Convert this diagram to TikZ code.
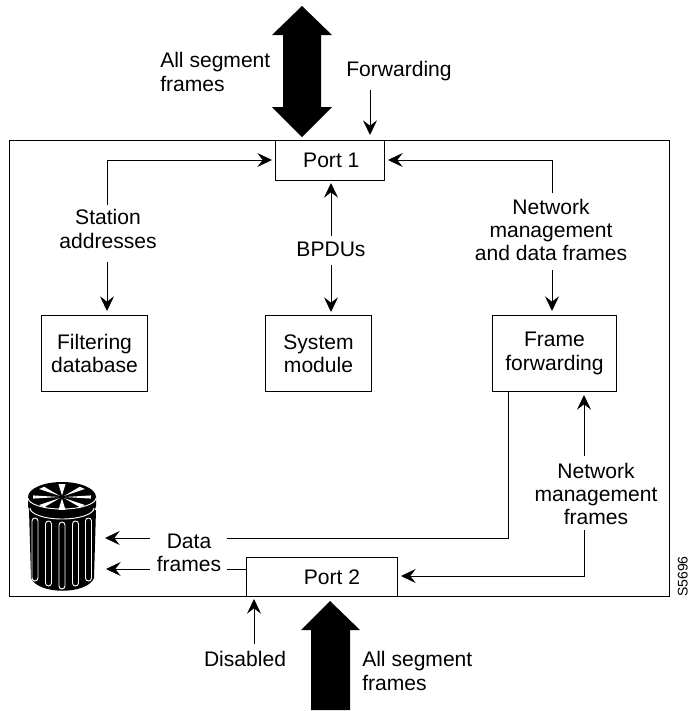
\documentclass[tikz,border=0pt]{standalone}
\usepackage{fontspec}
\setmainfont{Liberation Sans}
\usetikzlibrary{arrows.meta,calc}
\tikzset{
  box/.style={draw=black,line width=0.75pt,fill=white,inner sep=0pt,align=center},
  lbl/.style={inner sep=0pt,align=center,font=\fontsize{15.8}{17.4}\selectfont},
  conn/.style={draw=black,line width=0.75pt},
  arr/.style={conn,-{Stealth[length=11pt,width=10.5pt,inset=4pt]}},
  bigarrow/.style={fill=black,draw=none}
}
\begin{document}
\begin{tikzpicture}[x=0.75pt,y=-0.75pt]
\useasboundingbox (0,0) rectangle (689,711);
% enclosure
\node[box,minimum width=495pt,minimum height=342pt,anchor=north west] (frame) at (9,140) {};
% big arrows
\fill[bigarrow] (302,6)--(332,35)--(321,35)--(321,107)--(332,107)--(302,137)--(272,107)--(283,107)--(283,35)--(272,35)--cycle;
\fill[bigarrow] (330,601)--(360,630)--(350,630)--(350,710)--(311,710)--(311,630)--(301,630)--cycle;
% boxes
\node[box,lbl,minimum width=81.75pt,minimum height=30pt,anchor=north west] (p1) at (275,140) {\hspace*{2pt}Port 1};
\node[box,lbl,minimum width=113.25pt,minimum height=29.25pt,anchor=north west] (p2) at (246,557) {\hspace*{15pt}Port 2};
\node[box,lbl,minimum width=79.5pt,minimum height=57pt,anchor=north west] (fd) at (41,315) {Filtering\\database};
\node[box,lbl,minimum width=79.5pt,minimum height=57pt,anchor=north west] (sm) at (265,315) {System\\module};
\node[box,lbl,minimum width=93pt,minimum height=57pt,anchor=north west] (ff) at (492,315) {Frame\\forwarding};
% labels
\node[lbl,align=left,anchor=west] (l1) at (160,72) {All segment\\frames};
\node[lbl] (l2) at (399,71) {Forwarding};
\node[lbl] (l3) at (108,229) {Station\\addresses};
\node[lbl] (l4) at (331,249) {BPDUs};
\node[lbl] (l5) at (551,230) {Network\\management\\and data frames};
\node[lbl] (l6) at (596,494) {Network\\management\\frames};
\node[lbl] (l7) at (189,553) {Data\\frames};
\node[lbl] (l8) at (245,659) {Disabled};
\node[lbl,align=left,anchor=west] (l9) at (362,671) {All segment\\frames};
\node[inner sep=0pt,rotate=90,anchor=base west,font=\fontsize{10.5}{12}\selectfont] (l10) at (687.5,597) {S5696};
% free ends
\coordinate (c1) at (370,90);
\coordinate (c1e) at (370,135);
\coordinate (c2) at (107,160);
\coordinate (c3) at (552,160);
\coordinate (c4) at (254,644);
\coordinate (c5) at (254,599);
\coordinate (tc1) at (105,538);
\coordinate (tc2) at (106,569);
% connectors
\draw[arr] (c1)--(c1e);
\draw[arr] (107,205)--(c2)--(272,160);
\draw[arr] (107,262)--(107,311);
\draw[arr] (331,236)--(331,183);
\draw[arr] (331,265)--(331,312);
\draw[arr] (552,193)--(c3)--(388,160);
\draw[arr] (552,270)--(552,311);
\draw[arr] (584,456)--(584,395);
\draw[arr] (584,530)--(584,576)--(401,576);
\draw[conn] (508,391)--(508,538)--(227,538);
\draw[arr] (150,538)--(tc1);
\draw[conn] (246,569)--(227,569);
\draw[arr] (150,569)--(tc2);
\draw[arr] (c4)--(c5);
% trash can
\fill[black] (29,510) -- (31,578) .. controls (38,595) and (87,595) .. (94,578) -- (96,510) -- cycle;
\fill[black] (28,497) -- (28,506) arc[start angle=180,end angle=0,x radius=34,y radius=13] -- (96,497) arc[start angle=0,end angle=-180,x radius=34,y radius=15] -- cycle;
\draw[white,line width=0.7pt] (28,498) arc[start angle=180,end angle=0,x radius=34,y radius=11];
\draw[white,line width=0.7pt] (30,508) arc[start angle=180,end angle=0,x radius=32,y radius=11];
\foreach \x/\t/\b in {35/521/578,48.5/524/583,62/525/586,75.5/524/583,88.5/521/578}{
  \draw[white,line width=0.7pt] (\x-3,\b) -- (\x-3,\t) arc[start angle=180,end angle=360,radius=3] -- (\x+3,\b) arc[start angle=0,end angle=180,radius=3] -- cycle;
}
\foreach \a in {0,45,90,135,180,225,270,315}{
  \fill[white] ({62+3*cos(\a)},{497+1.5*sin(\a)}) -- ({62+29*cos(\a-7)},{497+13*sin(\a-7)}) -- ({62+29*cos(\a+7)},{497+13*sin(\a+7)}) -- cycle;
}
\end{tikzpicture}
\end{document}
